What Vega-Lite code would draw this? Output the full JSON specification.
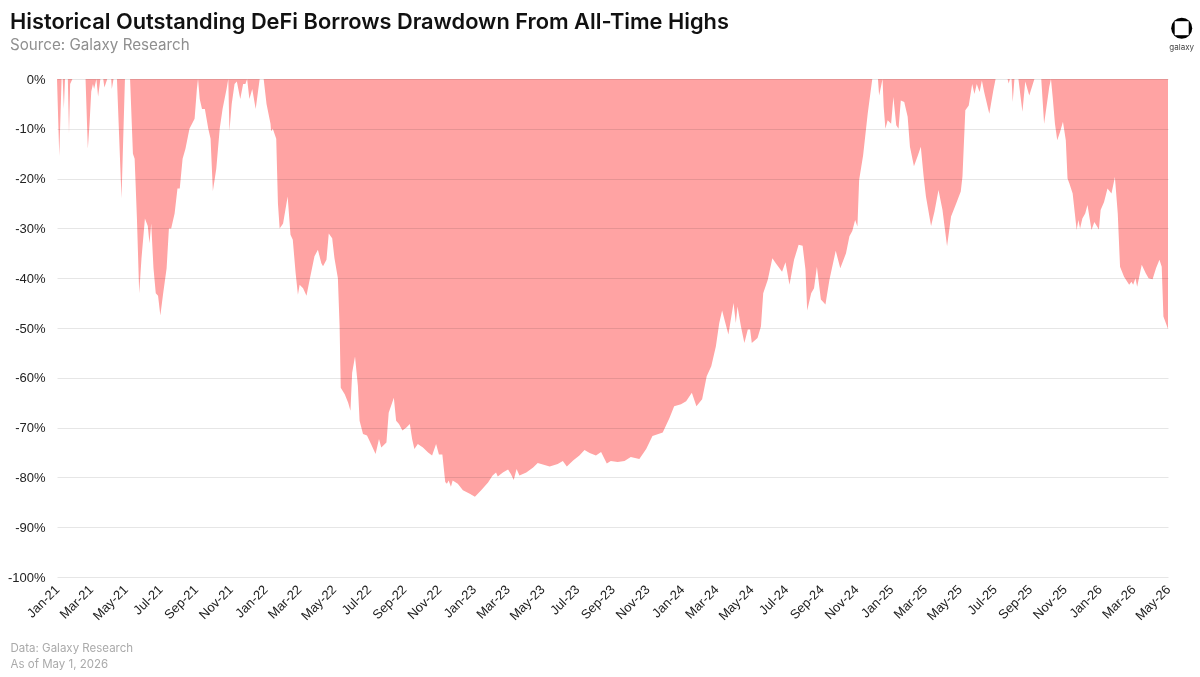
{
  "$schema": "https://vega.github.io/schema/vega-lite/v6.json",
  "width": 1111,
  "height": 498,
  "autosize": "none",
  "padding": {"left": 57, "top": 79, "right": 32, "bottom": 100},
  "background": "white",
  "title": {
    "text": "Historical Outstanding DeFi Borrows Drawdown From All-Time Highs",
    "subtitle": "Source: Galaxy Research",
    "anchor": "start",
    "frame": "group",
    "dx": -47,
    "offset": -35,
    "font": "Inter",
    "fontSize": 21.8,
    "fontWeight": 600,
    "color": "#111111",
    "subtitleFont": "Inter",
    "subtitleFontSize": 15.2,
    "subtitleColor": "#8f8f8f",
    "subtitlePadding": 4
  },
  "data": {
    "values": [
      {"d":"2021-01-01","v":0},{"d":"2021-01-05","v":-15.5},{"d":"2021-01-09","v":0},{"d":"2021-01-11","v":0},{"d":"2021-01-13","v":-6},{"d":"2021-01-15","v":0},{"d":"2021-01-20","v":0},{"d":"2021-01-22","v":-11},{"d":"2021-01-24","v":-1},{"d":"2021-01-28","v":0},
      {"d":"2021-02-20","v":0},{"d":"2021-02-24","v":-14},{"d":"2021-02-27","v":-9},{"d":"2021-03-02","v":-2.5},{"d":"2021-03-05","v":-1},{"d":"2021-03-07","v":-2},{"d":"2021-03-11","v":0},{"d":"2021-03-14","v":-3.5},{"d":"2021-03-18","v":0},{"d":"2021-03-23","v":0},{"d":"2021-03-25","v":-1.7},{"d":"2021-03-30","v":0},
      {"d":"2021-04-06","v":0},{"d":"2021-04-07","v":-2},{"d":"2021-04-10","v":0},{"d":"2021-04-16","v":0},{"d":"2021-04-24","v":-24},{"d":"2021-04-30","v":0},{"d":"2021-05-09","v":0},{"d":"2021-05-14","v":-15},{"d":"2021-05-17","v":-16},{"d":"2021-05-21","v":-28},{"d":"2021-05-25","v":-43},{"d":"2021-05-29","v":-36},
      {"d":"2021-06-04","v":-28},{"d":"2021-06-09","v":-29.5},{"d":"2021-06-12","v":-33},{"d":"2021-06-15","v":-29},{"d":"2021-06-19","v":-38},{"d":"2021-06-23","v":-43},{"d":"2021-06-27","v":-43.5},{"d":"2021-07-01","v":-47.5},{"d":"2021-07-06","v":-43},{"d":"2021-07-12","v":-38},{"d":"2021-07-16","v":-30},{"d":"2021-07-20","v":-30},{"d":"2021-07-26","v":-27},{"d":"2021-07-31","v":-22},
      {"d":"2021-08-04","v":-22},{"d":"2021-08-09","v":-16},{"d":"2021-08-14","v":-14},{"d":"2021-08-21","v":-10},{"d":"2021-08-30","v":-8},{"d":"2021-09-03","v":-2},{"d":"2021-09-05","v":0},{"d":"2021-09-08","v":-4},{"d":"2021-09-12","v":-6},{"d":"2021-09-17","v":-6},{"d":"2021-09-23","v":-10},{"d":"2021-09-27","v":-12},
      {"d":"2021-10-01","v":-22.5},{"d":"2021-10-07","v":-18},{"d":"2021-10-13","v":-10},{"d":"2021-10-18","v":-6},{"d":"2021-10-25","v":-2},{"d":"2021-10-28","v":0},{"d":"2021-10-30","v":-10.5},{"d":"2021-11-03","v":-5},{"d":"2021-11-08","v":-1},{"d":"2021-11-12","v":-0.5},{"d":"2021-11-18","v":-4},{"d":"2021-11-23","v":-1},{"d":"2021-11-27","v":-1},{"d":"2021-11-30","v":0},
      {"d":"2021-12-04","v":-4},{"d":"2021-12-09","v":-2},{"d":"2021-12-15","v":-6},{"d":"2021-12-22","v":0},{"d":"2021-12-29","v":0},{"d":"2022-01-03","v":-5},{"d":"2022-01-10","v":-9},{"d":"2022-01-11","v":-10.5},{"d":"2022-01-14","v":-10},{"d":"2022-01-20","v":-12},{"d":"2022-01-23","v":-25},{"d":"2022-01-26","v":-30},
      {"d":"2022-02-01","v":-29},{"d":"2022-02-05","v":-26.3},{"d":"2022-02-09","v":-23.6},{"d":"2022-02-14","v":-31.3},{"d":"2022-02-18","v":-32.3},{"d":"2022-02-23","v":-39},{"d":"2022-02-27","v":-43.3},{"d":"2022-03-02","v":-41.3},{"d":"2022-03-08","v":-42},{"d":"2022-03-14","v":-43.5},{"d":"2022-03-19","v":-40.6},{"d":"2022-03-28","v":-35.6},
      {"d":"2022-04-03","v":-34.3},{"d":"2022-04-09","v":-37},{"d":"2022-04-12","v":-37.6},{"d":"2022-04-18","v":-36.3},{"d":"2022-04-22","v":-31},{"d":"2022-04-28","v":-32},{"d":"2022-05-02","v":-36},{"d":"2022-05-08","v":-40},{"d":"2022-05-11","v":-49.6},{"d":"2022-05-13","v":-62},{"d":"2022-05-20","v":-63.3},{"d":"2022-05-26","v":-65},{"d":"2022-05-30","v":-66.6},
      {"d":"2022-06-02","v":-59},{"d":"2022-06-07","v":-55.7},{"d":"2022-06-12","v":-61.6},{"d":"2022-06-15","v":-68.6},{"d":"2022-06-21","v":-71.3},{"d":"2022-06-28","v":-71.6},{"d":"2022-07-05","v":-73.3},{"d":"2022-07-13","v":-75.3},{"d":"2022-07-19","v":-72.3},{"d":"2022-07-23","v":-74},{"d":"2022-08-01","v":-73},{"d":"2022-08-05","v":-67},{"d":"2022-08-14","v":-64},{"d":"2022-08-18","v":-68.6},{"d":"2022-08-23","v":-69.3},{"d":"2022-08-29","v":-70.6},
      {"d":"2022-09-05","v":-70},{"d":"2022-09-11","v":-69.3},{"d":"2022-09-15","v":-72.3},{"d":"2022-09-19","v":-74.3},{"d":"2022-09-25","v":-73.3},{"d":"2022-10-04","v":-74},{"d":"2022-10-13","v":-75},{"d":"2022-10-20","v":-75.6},{"d":"2022-10-27","v":-73.3},{"d":"2022-11-01","v":-75.4},{"d":"2022-11-07","v":-75.4},{"d":"2022-11-12","v":-80.9},{"d":"2022-11-15","v":-81.3},{"d":"2022-11-18","v":-80.6},{"d":"2022-11-22","v":-81.9},{"d":"2022-11-25","v":-80.6},
      {"d":"2022-12-04","v":-81.3},{"d":"2022-12-13","v":-82.6},{"d":"2022-12-25","v":-83.3},{"d":"2023-01-03","v":-83.9},{"d":"2023-01-14","v":-82.6},{"d":"2023-01-26","v":-81},{"d":"2023-02-03","v":-79.6},{"d":"2023-02-09","v":-79},{"d":"2023-02-12","v":-79.8},{"d":"2023-02-21","v":-79},{"d":"2023-03-02","v":-78.4},{"d":"2023-03-07","v":-79.3},{"d":"2023-03-12","v":-80.5},{"d":"2023-03-17","v":-78.3},{"d":"2023-03-22","v":-79.6},
      {"d":"2023-04-03","v":-79},{"d":"2023-04-15","v":-78},{"d":"2023-04-23","v":-77.1},{"d":"2023-05-02","v":-77.4},{"d":"2023-05-14","v":-77.8},{"d":"2023-05-28","v":-77.3},{"d":"2023-06-06","v":-76.7},{"d":"2023-06-13","v":-77.8},{"d":"2023-06-24","v":-76.6},{"d":"2023-07-05","v":-75.6},{"d":"2023-07-14","v":-74.5},{"d":"2023-07-23","v":-75.1},
      {"d":"2023-08-03","v":-75.6},{"d":"2023-08-12","v":-74.9},{"d":"2023-08-22","v":-77.2},{"d":"2023-08-29","v":-76.7},{"d":"2023-09-10","v":-76.9},{"d":"2023-09-22","v":-76.7},{"d":"2023-10-03","v":-75.9},{"d":"2023-10-18","v":-76.3},{"d":"2023-10-30","v":-74.3},{"d":"2023-11-10","v":-71.7},{"d":"2023-11-28","v":-71},{"d":"2023-12-10","v":-68},{"d":"2023-12-18","v":-65.7},{"d":"2023-12-30","v":-65.3},
      {"d":"2024-01-08","v":-64.7},{"d":"2024-01-18","v":-63},{"d":"2024-01-26","v":-65.7},{"d":"2024-02-05","v":-64.3},{"d":"2024-02-13","v":-59.7},{"d":"2024-02-21","v":-57.7},{"d":"2024-02-29","v":-53.7},{"d":"2024-03-06","v":-49},{"d":"2024-03-11","v":-46.5},{"d":"2024-03-16","v":-48.7},{"d":"2024-03-22","v":-51.3},{"d":"2024-03-31","v":-45},
      {"d":"2024-04-04","v":-49},{"d":"2024-04-07","v":-45.7},{"d":"2024-04-13","v":-49.7},{"d":"2024-04-19","v":-53},{"d":"2024-04-25","v":-50.3},{"d":"2024-04-29","v":-50.3},{"d":"2024-05-02","v":-53},{"d":"2024-05-12","v":-52},{"d":"2024-05-18","v":-49.7},{"d":"2024-05-22","v":-43},{"d":"2024-05-30","v":-40.3},
      {"d":"2024-06-07","v":-36},{"d":"2024-06-13","v":-37},{"d":"2024-06-24","v":-38.7},{"d":"2024-06-30","v":-36.8},{"d":"2024-07-07","v":-41.3},{"d":"2024-07-15","v":-36.3},{"d":"2024-07-23","v":-33.3},{"d":"2024-07-30","v":-33.5},{"d":"2024-08-04","v":-38.3},{"d":"2024-08-07","v":-46.5},{"d":"2024-08-14","v":-43},{"d":"2024-08-19","v":-42},{"d":"2024-08-24","v":-37.7},{"d":"2024-08-31","v":-44.3},
      {"d":"2024-09-08","v":-45.3},{"d":"2024-09-15","v":-40.3},{"d":"2024-09-26","v":-34.5},{"d":"2024-10-04","v":-38},{"d":"2024-10-14","v":-35},{"d":"2024-10-20","v":-31.6},{"d":"2024-10-25","v":-30.5},{"d":"2024-10-30","v":-28.3},{"d":"2024-11-03","v":-29.6},{"d":"2024-11-06","v":-20.3},{"d":"2024-11-13","v":-15.3},{"d":"2024-11-21","v":-7},{"d":"2024-11-29","v":0},
      {"d":"2024-12-09","v":0},{"d":"2024-12-11","v":-3.3},{"d":"2024-12-17","v":0},{"d":"2024-12-19","v":-5.6},{"d":"2024-12-22","v":-10},{"d":"2024-12-26","v":-8.3},{"d":"2025-01-01","v":-9},{"d":"2025-01-05","v":-3.6},{"d":"2025-01-10","v":-9.3},{"d":"2025-01-14","v":-10},{"d":"2025-01-18","v":-4.3},{"d":"2025-01-24","v":-4.6},{"d":"2025-01-30","v":-7.6},
      {"d":"2025-02-03","v":-13.6},{"d":"2025-02-10","v":-17.5},{"d":"2025-02-17","v":-15.3},{"d":"2025-02-22","v":-13.6},{"d":"2025-02-27","v":-19.6},{"d":"2025-03-03","v":-23.6},{"d":"2025-03-12","v":-29.5},{"d":"2025-03-18","v":-26.6},{"d":"2025-03-25","v":-22.3},{"d":"2025-04-01","v":-26.3},{"d":"2025-04-09","v":-33.6},{"d":"2025-04-16","v":-27.6},{"d":"2025-04-25","v":-25},
      {"d":"2025-05-03","v":-22.6},{"d":"2025-05-06","v":-19.6},{"d":"2025-05-11","v":-6.3},{"d":"2025-05-17","v":-5.3},{"d":"2025-05-23","v":-1},{"d":"2025-05-27","v":-3},{"d":"2025-05-31","v":-1},{"d":"2025-06-05","v":-2.6},{"d":"2025-06-09","v":-0.3},{"d":"2025-06-13","v":-2.6},{"d":"2025-06-22","v":-7},{"d":"2025-06-29","v":-2.3},{"d":"2025-07-03","v":0},{"d":"2025-07-13","v":0},{"d":"2025-07-24","v":0},{"d":"2025-07-26","v":-0.9},{"d":"2025-07-28","v":0},{"d":"2025-07-31","v":0},
      {"d":"2025-08-02","v":-4.6},{"d":"2025-08-05","v":0},{"d":"2025-08-12","v":0},{"d":"2025-08-19","v":-6.6},{"d":"2025-08-24","v":-0.5},{"d":"2025-08-31","v":-3.3},{"d":"2025-09-09","v":0},{"d":"2025-09-21","v":0},{"d":"2025-09-26","v":-9},{"d":"2025-10-05","v":-1.6},{"d":"2025-10-08","v":0},{"d":"2025-10-11","v":-3.6},{"d":"2025-10-15","v":-9},{"d":"2025-10-19","v":-12.3},{"d":"2025-10-24","v":-10.6},{"d":"2025-10-29","v":-8.6},
      {"d":"2025-11-03","v":-12.3},{"d":"2025-11-06","v":-20},{"d":"2025-11-09","v":-20.9},{"d":"2025-11-15","v":-23},{"d":"2025-11-22","v":-30.3},{"d":"2025-11-25","v":-28.3},{"d":"2025-11-28","v":-30},{"d":"2025-12-02","v":-28},{"d":"2025-12-07","v":-27},{"d":"2025-12-11","v":-25.3},{"d":"2025-12-18","v":-30.3},{"d":"2025-12-23","v":-28.7},{"d":"2025-12-31","v":-30.2},
      {"d":"2026-01-03","v":-26.3},{"d":"2026-01-09","v":-24.7},{"d":"2026-01-15","v":-22},{"d":"2026-01-22","v":-23},{"d":"2026-01-28","v":-19.7},{"d":"2026-02-02","v":-27},{"d":"2026-02-06","v":-37.7},{"d":"2026-02-13","v":-39.7},{"d":"2026-02-22","v":-41.3},{"d":"2026-02-26","v":-40.7},{"d":"2026-03-01","v":-41.3},{"d":"2026-03-05","v":-40},{"d":"2026-03-08","v":-41.7},{"d":"2026-03-16","v":-37.3},{"d":"2026-03-23","v":-39},{"d":"2026-03-28","v":-40},{"d":"2026-04-04","v":-40.2},{"d":"2026-04-10","v":-38},{"d":"2026-04-16","v":-36.3},{"d":"2026-04-20","v":-37.7},{"d":"2026-04-23","v":-47.7},{"d":"2026-05-01","v":-50.2}
    ]
  },
  "encoding": {
    "x": {
      "field": "d",
      "type": "temporal",
      "scale": {"type": "utc", "domain": ["2021-01-01", "2026-05-01"], "nice": false},
      "axis": {
        "title": ["Data: Galaxy Research", "As of May 1, 2026"],
        "titleAnchor": "start",
        "titleAlign": "left",
        "titleX": -47,
        "titleY": 65,
        "titleFont": "Inter",
        "titleFontSize": 11.5,
        "titleFontWeight": 400,
        "titleColor": "#aaaaaa",
        "titleLineHeight": 16,
        "labelExpr": "utcFormat(datum.value, '%b-%y')",
        "tickCount": {"interval": "month", "step": 2},
        "labelAngle": -45,
        "labelAlign": "right",
        "labelBaseline": "middle",
        "labelOverlap": false,
        "labelFont": "Liberation Sans",
        "labelFontSize": 13,
        "labelColor": "#222222",
        "labelPadding": 10,
        "domain": false,
        "ticks": false,
        "grid": false
      }
    },
    "y": {
      "field": "v",
      "type": "quantitative",
      "stack": null,
      "scale": {"domain": [-100, 0], "nice": false},
      "axis": {
        "title": null,
        "values": [0, -10, -20, -30, -40, -50, -60, -70, -80, -90, -100],
        "labelExpr": "datum.value + '%'",
        "labelFont": "Liberation Sans",
        "labelFontSize": 13,
        "labelColor": "#222222",
        "labelPadding": 12,
        "domain": false,
        "ticks": false,
        "grid": true,
        "gridColor": "#e6e6e6",
        "gridWidth": 1
      }
    }
  },
  "layer": [
    {"mark": {"type": "area", "color": "#ffa3a3", "blend": "multiply"}},
    {
      "data": {"values": [{"d": "2026-05-25", "v": 10.2}]},
      "mark": {"type": "point", "shape": "circle", "filled": true, "size": 441, "color": "#000000", "opacity": 1}
    },
    {
      "data": {"values": [{"d": "2026-05-25", "v": 10.2}]},
      "mark": {"type": "point", "shape": "square", "filled": true, "size": 196, "color": "#ffffff", "opacity": 1}
    },
    {
      "data": {"values": [{"d": "2026-05-25", "v": 6.2, "label": "galaxy"}]},
      "mark": {"type": "text", "font": "Inter", "fontSize": 8, "color": "#444444"},
      "encoding": {"text": {"field": "label"}}
    }
  ],
  "config": {"view": {"stroke": null}}
}
